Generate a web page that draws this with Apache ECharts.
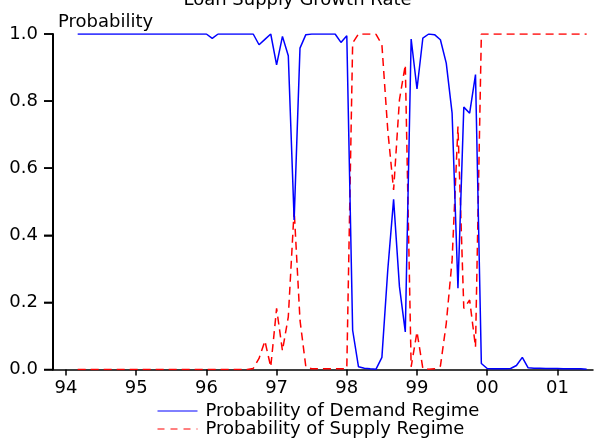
<!DOCTYPE html>
<html>
<head>
<meta charset="utf-8">
<script src="https://cdn.jsdelivr.net/npm/echarts@6/dist/echarts.min.js"></script>
<style>
html,body{margin:0;padding:0;background:#fff;}
#chart{width:595px;height:439px;}
</style>
</head>
<body>
<div id="chart"></div>
<script>
// Monthly observations, starting 1994 March
var startYear = 94;
var startMonth = 3;
var xTicks = [94, 95, 96, 97, 98, 99, 100, 101];
var yTicks = [0, 0.2, 0.4, 0.6, 0.8, 1.0];

var demand = [
  1,1,1,1,1,1,1,1,1,1,1,1,1,1,1,1,1,1,1,1,1,1,1,
  0.987,
  1,1,1,1,1,1,1,
  0.968,0.984,1.0,0.908,0.993,0.935,0.446,0.958,0.998,
  1,1,1,1,1,
  0.975,0.995,0.117,0.008,0.004,0.002,0.001,0.036,0.296,0.507,0.247,0.112,
  0.985,0.836,0.988,1.0,0.998,0.983,0.913,0.764,0.242,0.782,0.764,0.879,
  0.018,0.003,0.002,0.002,0.002,0.003,0.012,0.036,0.005,
  0.004,0.004,0.003,0.003,0.003,0.002,0.002,0.002,0.002,0.001
];
var supply = [
  0,0,0,0,0,0,0,0,0,0,0,0,0,0,0,0,0,0,0,0,0,0,0,0,0,0,0,0,0,0,
  0.003,
  0.033,0.085,0.008,0.182,0.056,0.157,0.476,0.147,0.008,
  0.002,0.002,0.002,0.002,0.002,0.002,
  0.003,0.973,1.0,1.0,1.0,0.999,
  0.968,0.714,0.535,0.804,0.908,
  0.008,0.112,0.003,0.001,0.002,0.01,
  0.137,0.326,0.724,0.182,0.207,0.067,
  1,1,1,1,1,1,1,1,1,1,1,1,1,1,1,1,1,1,1
];

var demandName = 'Probability of Demand Regime';
var supplyName = 'Probability of Supply Regime';

function dateOf(i){ return startYear + (startMonth - 1 + i) / 12; }
function pairs(arr){ return arr.map(function(v,i){ return [dateOf(i), v]; }); }

var FONT = 'DejaVu Sans';
var X_MIN = 93.815, X_MAX = 101.507;
function legendOf(name, top, ls){
  return {
    orient: 'horizontal', left: 157, top: top, padding: 0,
    itemWidth: 40, itemHeight: 14, itemGap: 0,
    textStyle: {fontFamily: FONT, fontSize: 18, color: '#000', padding: [0,0,0,3]},
    itemStyle: {opacity: 0},
    lineStyle: ls,
    data: [name]
  };
}
var probLabel = {
  type: 'text', left: 58, top: 13,
  style: {text: 'Probability', font: '18px "DejaVu Sans"', fill: '#000'}
};
var chart = echarts.init(document.getElementById('chart'), null, {renderer:'canvas'});
chart.setOption({
  animation: false,
  backgroundColor: '#fff',
  title: {
    text: 'Loan Supply Growth Rate',
    left: 'center',
    top: -14,
    textStyle: {fontFamily: FONT, fontSize: 18, fontWeight: 'normal', color: '#000'}
  },
  graphic: [probLabel],
  grid: {left: 53, right: 2, top: 34, bottom: 69.5, containLabel: false, outerBoundsMode: 'none'},
  legend: [
    legendOf(demandName, 402, {width: 1, type: 'solid', color: '#0000ff'}),
    legendOf(supplyName, 420, {width: 1, type: [7,6], color: '#ff0000'})
  ],
  xAxis: {
    type: 'value', min: X_MIN, max: X_MAX,
    axisLine: {show: true, onZero: false, lineStyle: {color: '#000', width: 1.5}},
    axisTick: {show: true, length: 6, customValues: xTicks, lineStyle: {color: '#000', width: 1.5}},
    axisLabel: {
      customValues: xTicks, margin: 10,
      fontFamily: FONT, fontSize: 18, color: '#000',
      formatter: function(v){ var y = Math.round(v) % 100; return (y < 10 ? '0' : '') + y; }
    },
    splitLine: {show: false}
  },
  yAxis: {
    type: 'value', min: 0, max: 1, interval: 0.2,
    axisLine: {show: true, lineStyle: {color: '#000', width: 2}},
    axisTick: {show: true, inside: false, length: 9, lineStyle: {color: '#000', width: 1.5}},
    axisLabel: {
      margin: 15, fontFamily: FONT, fontSize: 18, color: '#000',
      formatter: function(v){ return v.toFixed(1); }
    },
    splitLine: {show: false}
  },
  series: [
    {
      name: demandName, type: 'line', data: pairs(demand),
      showSymbol: false, symbol: 'none', z: 3,
      lineStyle: {color: '#0000ff', width: 1.5}, itemStyle: {color: '#0000ff'}
    },
    {
      name: supplyName, type: 'line', data: pairs(supply),
      showSymbol: false, symbol: 'none', z: 2,
      lineStyle: {color: '#ff0000', width: 1.5, type: [8,5]}, itemStyle: {color: '#ff0000'}
    }
  ]
});

// y-axis tick marks placed through the library's own scale
var tickGraphics = yTicks.map(function(v){
  var p = chart.convertToPixel({gridIndex: 0}, [X_MIN, v]);
  return {
    type: 'line', silent: true, z: 10,
    shape: {x1: p[0] - 9, y1: p[1], x2: p[0], y2: p[1]},
    style: {stroke: '#000', lineWidth: 1.5}
  };
});
chart.setOption({graphic: [probLabel].concat(tickGraphics)});
</script>
</body>
</html>
